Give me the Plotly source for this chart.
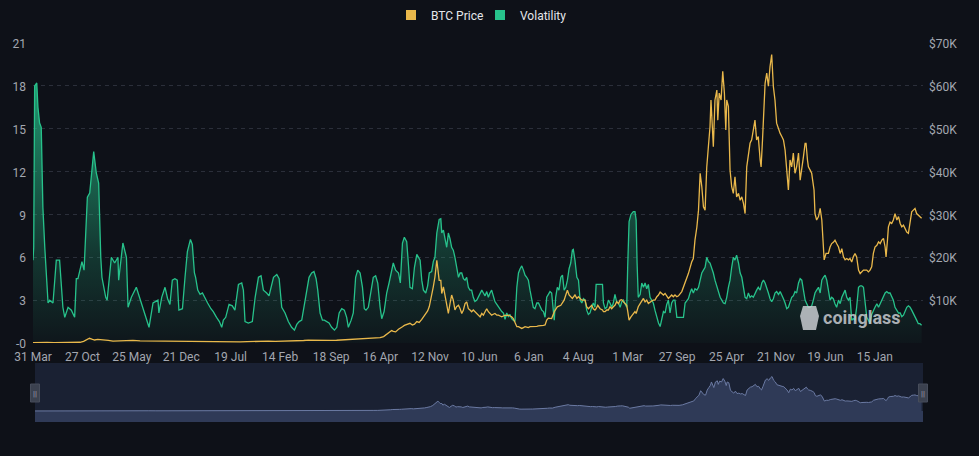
import pandas as pd
import plotly.graph_objects as go

START_DATE = "2013-03-31"

# Volatility: (days since start, value)
vol_days = [0, 3, 7, 16, 21, 28, 35, 42, 50, 57, 64, 71, 85, 99, 113, 127, 135, 149, 163, 177, 184, 191, 208, 217,
            231, 241, 258, 269, 279, 288, 293, 309, 315, 333, 347, 361, 364, 382, 397, 404, 418, 439, 461, 482, 493,
            510, 531, 535, 547, 561, 572, 582, 592, 603, 613, 620, 635, 646, 656, 669, 677, 686, 691, 700, 710, 720,
            731, 742, 756, 766, 780, 792, 802, 809, 819, 833, 847, 858, 873, 887, 894, 901, 915, 932, 944, 958, 969,
            979, 993, 1003, 1022, 1036, 1046, 1057, 1071, 1085, 1099, 1111, 1121, 1131, 1142, 1152, 1163, 1173, 1184,
            1194, 1203, 1210, 1220, 1230, 1238, 1248, 1258, 1269, 1281, 1291, 1301, 1312, 1323, 1333, 1340, 1352,
            1361, 1371, 1380, 1390, 1400, 1408, 1415, 1425, 1437, 1446, 1456, 1465, 1475, 1482, 1492, 1503, 1513,
            1524, 1531, 1541, 1553, 1561, 1570, 1578, 1588, 1595, 1602, 1612, 1621, 1631, 1645, 1652, 1659, 1669,
            1677, 1684, 1694, 1701, 1708, 1716, 1726, 1733, 1737, 1744, 1751, 1758, 1765, 1772, 1779, 1786, 1793,
            1800, 1808, 1815, 1822, 1829, 1836, 1843, 1850, 1857, 1864, 1871, 1878, 1886, 1893, 1900, 1907, 1914,
            1921, 1928, 1935, 1942, 1949, 1956, 1963, 1971, 1978, 1985, 1992, 1999, 2006, 2013, 2020, 2027, 2034,
            2041, 2048, 2056, 2063, 2070, 2077, 2084, 2091, 2098, 2105, 2112, 2119, 2126, 2133, 2141, 2148, 2155,
            2162, 2169, 2176, 2183, 2190, 2197, 2204, 2211, 2215, 2221, 2228, 2235, 2243, 2250, 2257, 2264, 2271,
            2278, 2285, 2292, 2296, 2303, 2311, 2318, 2325, 2332, 2339, 2346, 2353, 2360, 2367, 2374, 2381, 2388,
            2393, 2400, 2410, 2420, 2424, 2431, 2438, 2445, 2452, 2459, 2466, 2473, 2480, 2488, 2495, 2502, 2509,
            2516, 2523, 2527, 2533, 2541, 2551, 2558, 2563, 2567, 2572, 2580, 2587, 2594, 2601, 2608, 2615, 2622,
            2629, 2636, 2643, 2651, 2658, 2665, 2672, 2679, 2686, 2693, 2700, 2707, 2714, 2721, 2728, 2736, 2743,
            2757, 2764, 2771, 2778, 2785, 2792, 2799, 2806, 2813, 2821, 2828, 2835, 2842, 2849, 2856, 2863, 2870,
            2877, 2884, 2891, 2898, 2906, 2913, 2920, 2927, 2934, 2941, 2948, 2955, 2962, 2969, 2976, 2983, 2990,
            2998, 3005, 3012, 3019, 3026, 3033, 3040, 3047, 3054, 3061, 3068, 3075, 3082, 3090, 3097, 3104, 3111,
            3118, 3125, 3132, 3139, 3146, 3153, 3160, 3168, 3175, 3182, 3189, 3196, 3203, 3210, 3217, 3224, 3231,
            3238, 3245, 3253, 3260, 3267, 3274, 3281, 3288, 3295, 3302, 3309, 3316, 3323, 3330, 3338, 3345, 3352,
            3359, 3366, 3373, 3380, 3387, 3394, 3401, 3408, 3415, 3423, 3430, 3437, 3444, 3451, 3458, 3465, 3472,
            3479, 3486, 3493, 3500, 3508, 3515, 3522, 3529, 3536, 3543, 3550, 3557, 3564, 3571, 3578, 3586, 3593,
            3600, 3607, 3614, 3621, 3628, 3635, 3642, 3649, 3656, 3663, 3671, 3678, 3685, 3692, 3699, 3706, 3713,
            3720, 3727, 3734, 3741, 3748, 3755, 3762, 3769, 3776]
vol_values = [5.8, 6.7, 18.0, 18.2, 16.5, 15.4, 15.1, 9.5, 6.7, 4.9, 2.8, 3.0, 2.8, 5.8, 5.8, 2.5, 1.8, 2.5, 2.3, 1.8,
              4.5, 4.5, 5.7, 5.1, 10.2, 10.5, 13.4, 11.9, 11.2, 6.0, 4.6, 3.2, 3.0, 6.0, 5.6, 6.0, 4.4, 7.0, 6.0,
              2.5, 3.2, 3.9, 2.8, 1.6, 1.1, 2.8, 3.0, 2.1, 3.2, 3.9, 3.1, 2.7, 4.4, 4.5, 4.4, 2.3, 2.4, 4.6, 6.4,
              7.25, 6.9, 4.9, 4.6, 3.7, 3.4, 3.5, 3.1, 2.8, 2.4, 2.2, 1.8, 1.5, 1.1, 1.6, 1.8, 2.7, 2.6, 2.3, 4.1,
              4.2, 3.7, 1.5, 1.4, 1.5, 3.2, 4.6, 4.7, 3.7, 3.5, 3.3, 4.6, 4.8, 4.5, 2.5, 2.1, 1.5, 1.1, 0.9, 1.3,
              1.5, 1.6, 2.5, 3.7, 4.6, 4.9, 5.0, 4.5, 3.7, 2.1, 1.6, 1.6, 1.5, 1.4, 1.1, 0.9, 1.1, 2.1, 2.4, 2.3,
              1.8, 1.1, 1.6, 2.1, 4.6, 5.1, 4.9, 3.9, 2.4, 2.3, 2.5, 3.7, 4.6, 4.7, 4.2, 2.5, 1.7, 2.2, 3.5, 4.2,
              5.2, 5.6, 5.1, 4.9, 4.2, 7.0, 7.4, 7.1, 5.6, 3.9, 3.8, 5.3, 6.2, 5.8, 4.4, 3.7, 3.5, 4.0, 4.9, 5.0,
              5.7, 6.0, 7.7, 8.65, 8.7, 7.7, 7.9, 7.3, 6.7, 7.7, 7.3, 6.7, 6.5, 6.0, 5.3, 4.6, 4.9, 4.9, 4.5, 4.4,
              4.6, 3.9, 3.7, 3.7, 3.2, 2.9, 3.0, 3.2, 3.5, 3.7, 3.5, 3.3, 3.6, 3.2, 3.5, 3.7, 3.3, 2.9, 2.7, 2.5,
              2.3, 2.2, 2.1, 1.65, 2.1, 1.85, 2.0, 1.7, 1.6, 1.5, 3.9, 4.9, 5.2, 5.4, 5.1, 4.75, 4.6, 4.4, 3.7, 3.0,
              2.5, 2.4, 2.8, 2.8, 2.5, 2.3, 2.2, 1.8, 3.2, 3.4, 3.6, 3.5, 2.1, 1.6, 3.2, 3.9, 3.7, 4.6, 4.75, 3.7,
              3.9, 4.4, 5.2, 5.6, 6.5, 6.55, 5.8, 4.6, 4.4, 3.0, 2.8, 3.1, 3.0, 2.3, 2.0, 2.1, 2.5, 2.8, 2.5, 4.1,
              4.1, 4.1, 4.1, 2.8, 2.4, 2.5, 3.0, 2.8, 2.5, 2.8, 3.4, 2.9, 2.8, 2.5, 2.9, 3.0, 2.7, 2.5, 5.3, 8.5,
              9.0, 9.2, 9.2, 8.6, 5.6, 3.2, 3.4, 4.2, 3.9, 4.2, 3.8, 4.1, 3.2, 3.0, 2.8, 2.3, 1.8, 1.4, 1.15, 1.6,
              2.2, 2.1, 2.7, 3.0, 2.1, 2.8, 3.0, 3.0, 1.8, 1.8, 1.8, 1.8, 2.8, 3.0, 3.1, 3.5, 3.8, 3.5, 3.8, 3.7,
              3.9, 4.4, 4.9, 5.1, 5.3, 6.0, 5.7, 5.6, 5.3, 4.9, 4.4, 3.9, 3.5, 3.2, 3.0, 2.8, 2.75, 3.2, 3.9, 4.4,
              5.3, 6.0, 5.8, 6.15, 5.6, 4.9, 4.6, 3.9, 3.2, 3.1, 3.5, 3.2, 3.3, 3.2, 3.5, 3.7, 3.9, 3.7, 4.2, 4.4,
              4.2, 3.9, 3.5, 3.1, 2.9, 3.1, 3.5, 3.6, 3.4, 3.6, 3.4, 3.1, 2.8, 2.4, 2.5, 2.8, 3.2, 3.3, 3.6, 3.5,
              4.2, 4.5, 4.4, 3.7, 3.0, 2.75, 2.5, 2.5, 2.6, 3.0, 3.5, 3.7, 3.9, 3.5, 4.4, 4.6, 4.75, 4.4, 3.5, 3.0,
              3.2, 3.1, 2.75, 2.5, 3.0, 2.75, 3.2, 3.5, 3.7, 3.2, 3.0, 3.2, 1.6, 1.7, 1.6, 2.5, 3.9, 4.0, 4.0, 3.9,
              2.75, 1.8, 1.6, 1.35, 2.0, 2.3, 2.5, 2.75, 2.5, 2.75, 3.0, 3.2, 3.5, 3.6, 3.5, 3.5, 3.3, 3.0, 2.5,
              2.3, 2.1, 2.1, 1.85, 1.95, 2.2, 2.5, 2.6, 2.5, 2.3, 2.1, 1.85, 1.6, 1.35, 1.35, 1.25]

# BTC price: (days since start, USD)
price_days = [0, 14, 30, 60, 90, 120, 150, 180, 200, 215, 230, 240, 250, 262, 275, 290, 305, 320, 340, 365, 395,
              425, 455, 485, 515, 545, 575, 605, 635, 665, 700, 730, 760, 790, 820, 850, 880, 910, 940, 970, 1000,
              1030, 1060, 1085, 1120, 1150, 1170, 1200, 1230, 1260, 1290, 1320, 1340, 1360, 1380, 1400, 1420, 1440,
              1460, 1475, 1490, 1503, 1513, 1524, 1531, 1541, 1553, 1561, 1570, 1578, 1588, 1595, 1602, 1612, 1621,
              1631, 1641, 1652, 1659, 1669, 1677, 1684, 1694, 1701, 1708, 1716, 1721, 1726, 1733, 1737, 1744, 1751,
              1758, 1765, 1772, 1779, 1786, 1793, 1800, 1808, 1815, 1822, 1829, 1836, 1843, 1850, 1857, 1864, 1871,
              1878, 1886, 1893, 1900, 1907, 1914, 1921, 1928, 1935, 1942, 1949, 1956, 1963, 1971, 1978, 1985, 1992,
              1999, 2006, 2013, 2020, 2027, 2034, 2041, 2048, 2056, 2063, 2070, 2077, 2084, 2091, 2098, 2105, 2112,
              2119, 2126, 2133, 2141, 2148, 2155, 2162, 2169, 2176, 2183, 2190, 2197, 2204, 2215, 2228, 2243, 2257,
              2264, 2271, 2278, 2285, 2292, 2303, 2311, 2318, 2325, 2332, 2346, 2353, 2360, 2367, 2374, 2381, 2388,
              2393, 2400, 2410, 2420, 2424, 2431, 2438, 2445, 2452, 2459, 2466, 2473, 2480, 2488, 2495, 2502, 2509,
              2516, 2523, 2527, 2533, 2541, 2551, 2558, 2563, 2567, 2572, 2580, 2587, 2594, 2601, 2608, 2615, 2622,
              2629, 2636, 2643, 2651, 2658, 2665, 2672, 2679, 2686, 2693, 2700, 2707, 2714, 2721, 2728, 2736, 2743,
              2757, 2771, 2785, 2799, 2806, 2813, 2821, 2828, 2835, 2842, 2849, 2856, 2863, 2870, 2877, 2881, 2887,
              2891, 2898, 2906, 2910, 2916, 2924, 2931, 2938, 2944, 2948, 2955, 2962, 2969, 2976, 2983, 2990, 2998,
              3005, 3012, 3019, 3026, 3033, 3040, 3047, 3054, 3061, 3068, 3075, 3082, 3090, 3094, 3100, 3104, 3111,
              3118, 3125, 3132, 3139, 3146, 3153, 3160, 3168, 3175, 3182, 3189, 3196, 3203, 3210, 3217, 3224, 3231,
              3238, 3245, 3253, 3260, 3267, 3274, 3281, 3285, 3291, 3295, 3302, 3309, 3313, 3319, 3323, 3330, 3338,
              3345, 3352, 3356, 3359, 3362, 3370, 3380, 3387, 3394, 3401, 3408, 3415, 3423, 3430, 3437, 3444, 3451,
              3458, 3465, 3472, 3479, 3486, 3493, 3500, 3508, 3515, 3522, 3529, 3536, 3543, 3550, 3557, 3564, 3571,
              3578, 3586, 3593, 3600, 3607, 3614, 3621, 3625, 3631, 3635, 3642, 3649, 3656, 3663, 3671, 3678, 3685,
              3692, 3699, 3706, 3713, 3720, 3727, 3734, 3741, 3748, 3755, 3762, 3769, 3776]
price_values = [93, 140, 110, 120, 100, 95, 110, 125, 170, 400, 800, 1100, 900, 700, 850, 800, 650, 600, 450, 480,
                620, 600, 500, 480, 390, 370, 340, 320, 220, 230, 250, 240, 230, 250, 270, 240, 240, 320, 400, 440,
                420, 400, 420, 430, 440, 580, 680, 620, 600, 610, 640, 730, 780, 930, 980, 900, 1050, 1150, 1200,
                1250, 1500, 2100, 2400, 2900, 2700, 2600, 3200, 3400, 3800, 4100, 4300, 4600, 4600, 4200, 4400,
                5000, 4800, 5500, 6000, 6900, 7500, 8500, 10800, 13100, 15400, 19300, 17000, 14600, 14600, 11550,
                13100, 10800, 8800, 6900, 9200, 11200, 10000, 7700, 8450, 8800, 8000, 6900, 7700, 9200, 9600, 8000,
                7700, 7300, 7700, 7300, 6900, 6500, 6100, 6900, 6500, 7300, 8000, 7300, 6900, 6500, 6700, 6900,
                6500, 6500, 6300, 6100, 6300, 6500, 6400, 6500, 6300, 6100, 5700, 4600, 3800, 3800, 3600, 3400,
                3600, 3800, 3700, 3600, 3800, 3800, 3900, 3800, 3900, 4000, 4000, 3950, 4100, 4200, 5350, 5800,
                5700, 5700, 7300, 8450, 8800, 10000, 11200, 12300, 11200, 10800, 10400, 11200, 10400, 10800, 10400,
                10000, 10000, 8450, 8000, 8450, 8800, 8000, 7700, 8000, 8800, 8000, 7700, 7300, 7300, 7700, 7700,
                8450, 8000, 8450, 8800, 9600, 9200, 10000, 10100, 9600, 9200, 8800, 7500, 5350, 6100, 6900, 7300,
                6900, 7700, 8450, 9200, 10000, 10400, 9600, 10000, 9200, 9600, 9800, 10000, 10000, 10800, 11200,
                11900, 11550, 11200, 11550, 10800, 10400, 10800, 11200, 10800, 11200, 10800, 11000, 12000, 13900,
                16200, 18900, 19700, 24000, 27000, 31000, 39600, 36500, 31800, 31000, 41000, 45800, 50500, 56700,
                49000, 45800, 56700, 59000, 52000, 58300, 56700, 63400, 58300, 49700, 56700, 55200, 40400, 36500,
                34900, 38800, 34100, 34900, 33300, 34100, 32600, 30200, 41100, 44300, 46600, 47400, 49700, 52000,
                47400, 48200, 42700, 41100, 47400, 53600, 60600, 63000, 59900, 64500, 67300, 59900, 56700, 51300,
                49700, 48900, 48200, 47400, 45000, 41100, 35700, 42700, 41100, 44300, 39600, 41100, 44300, 38000,
                40400, 43500, 46600, 46600, 42700, 41100, 40400, 39600, 38000, 35700, 30200, 28700, 29500, 31400,
                28700, 24000, 20100, 19400, 20900, 20900, 22400, 23200, 23500, 24000, 23200, 22400, 20900, 22000,
                20100, 19400, 19700, 19400, 19700, 18900, 20100, 20900, 20100, 17000, 16200, 16600, 17000, 17000,
                17000, 16600, 17000, 17800, 20900, 22400, 22800, 23600, 23200, 24000, 24400, 22400, 20100, 24000,
                27100, 28200, 27900, 28700, 30200, 28700, 29500, 27900, 27100, 27500, 26700, 25900, 25600, 27900,
                30600, 31000, 31400, 30200, 29900, 29500, 29100]

tick_dates = ["2013-03-31", "2013-10-27", "2014-05-25", "2014-12-21", "2015-07-19", "2016-02-14", "2016-09-18",
              "2017-04-16", "2017-11-12", "2018-06-10", "2019-01-06", "2019-08-04", "2020-03-01", "2020-09-27",
              "2021-04-25", "2021-11-21", "2022-06-19", "2023-01-15"]
tick_labels = ["31 Mar", "27 Oct", "25 May", "21 Dec", "19 Jul", "14 Feb", "18 Sep", "16 Apr", "12 Nov", "10 Jun",
               "6 Jan", "4 Aug", "1 Mar", "27 Sep", "25 Apr", "21 Nov", "19 Jun", "15 Jan"]
vol_ticks = [0, 3, 6, 9, 12, 15, 18, 21]
vol_tick_labels = ["-0", "3", "6", "9", "12", "15", "18", "21"]
price_ticks = [10000, 20000, 30000, 40000, 50000, 60000, 70000]
price_tick_labels = ["$10K", "$20K", "$30K", "$40K", "$50K", "$60K", "$70K"]

# ---------------------------------------------------------------
start = pd.Timestamp(START_DATE)
vol_x = start + pd.to_timedelta(vol_days, unit="D")
price_x = start + pd.to_timedelta(price_days, unit="D")
x_end = start + pd.Timedelta(days=3782)

BG = "#0e1118"
GRID = "#2b2f3a"
TICK = "#a3a7b0"
GREEN = "#27c28b"
GOLD = "#e9b84b"

W, H = 979, 456
ML, MR, MT, MB = 33, 56, 43, 34
plot_h = H - MT - MB
plot_w = W - ML - MR
main_bottom = (422 - 343) / plot_h
slider_top = (422 - 363) / plot_h


def px_x(px):
    return (px - ML) / plot_w


def px_y(py):
    return 1 - (py - MT) / plot_h


fig = go.Figure()

fig.add_trace(go.Scatter(
    x=vol_x, y=vol_values, mode="lines", name="Volatility", showlegend=False,
    line=dict(color=GREEN, width=1.3),
    fill="tozeroy",
    fillgradient=dict(type="vertical", start=0, stop=18,
                      colorscale=[[0, "rgba(39,194,139,0.03)"], [0.35, "rgba(39,194,139,0.22)"],
                                  [1, "rgba(39,194,139,0.75)"]]),
    xaxis="x", yaxis="y", hoverinfo="skip"))

fig.add_trace(go.Scatter(
    x=price_x, y=price_values, mode="lines", name="BTC Price", showlegend=False,
    line=dict(color=GOLD, width=1.3), xaxis="x", yaxis="y3", hoverinfo="skip"))

# slider (data zoom) preview
fig.add_trace(go.Scatter(
    x=price_x, y=price_values, mode="lines", showlegend=False,
    line=dict(color="#6b7aa3", width=1), fill="tozeroy", fillcolor="#2f3a57",
    xaxis="x2", yaxis="y2", hoverinfo="skip"))

# legend entries
fig.add_trace(go.Scatter(x=[None], y=[None], mode="markers", name="BTC Price",
                         marker=dict(symbol="square", size=10, color=GOLD)))
fig.add_trace(go.Scatter(x=[None], y=[None], mode="markers", name="Volatility",
                         marker=dict(symbol="square", size=10, color=GREEN)))

shapes = [
    dict(type="rect", xref="paper", yref="paper", x0=px_x(35), x1=px_x(923), y0=0, y1=slider_top,
         fillcolor="#1a2133", line=dict(width=0), layer="below"),
    dict(type="rect", xref="x2 domain", yref="y2", x0=0, x1=1, y0=-21500, y1=0,
         fillcolor="#2f3a57", line=dict(width=0), layer="below"),
]
annotations = []
for hxp in (35, 923):
    shapes.append(dict(type="rect", xref="paper", yref="paper",
                       x0=px_x(hxp - 4.5), x1=px_x(hxp + 4.5),
                       y0=px_y(402), y1=px_y(384),
                       fillcolor="#3b414f", line=dict(color="#474d5b", width=1)))
    annotations.append(dict(x=px_x(hxp), y=px_y(393), xref="paper", yref="paper", text="||", showarrow=False,
                            xanchor="center", yanchor="middle",
                            font=dict(size=8, color="#9aa0ab", family="Roboto")))

# watermark
annotations.append(dict(x=px_x(862), y=px_y(317), xref="paper", yref="paper",
                        text="<b>coinglass</b>", showarrow=False, xanchor="center", yanchor="middle",
                        font=dict(size=18, color="rgba(200,203,208,0.85)", family="Roboto")))
shapes.append(dict(type="path", xref="paper", yref="paper",
                   path=("M {a},{t} L {b},{t} L {c},{m} L {b},{bt} L {a},{bt} L {d},{m} Z").format(
                       a=px_x(803), b=px_x(816), c=px_x(819), d=px_x(800),
                       t=px_y(306), m=px_y(316), bt=px_y(330)),
                   fillcolor="rgba(200,203,208,0.85)", line=dict(width=0)))

fig.update_layout(
    width=W, height=H,
    margin=dict(l=ML, r=MR, t=MT, b=MB, autoexpand=False),
    paper_bgcolor=BG, plot_bgcolor=BG,
    font=dict(family="Roboto", size=12, color=TICK),
    showlegend=True,
    legend=dict(orientation="h", x=(484 - 4) / W, xanchor="center", xref="container",
                y=1 - 15 / H, yanchor="middle", yref="container",
                font=dict(size=12, color="#e4e6ea"), bgcolor="rgba(0,0,0,0)", itemwidth=30,
                entrywidth=44, entrywidthmode="pixels", tracegroupgap=0),
    xaxis=dict(type="date", domain=[0, 1], anchor="y", range=[start, x_end],
               tickmode="array", tickvals=tick_dates, ticktext=tick_labels,
               showgrid=False, zeroline=False, showline=False, ticks="", ticklabelstandoff=5,
               tickfont=dict(size=12, color=TICK), fixedrange=True),
    yaxis=dict(domain=[main_bottom, 1], range=[0, 21], tickmode="array", tickvals=vol_ticks,
               ticktext=vol_tick_labels, showgrid=True, gridcolor=GRID, griddash="4px,4px",
               zeroline=False, showline=False, ticks="", ticklabelstandoff=6, ticklabelshift=1,
               tickfont=dict(size=12, color=TICK)),
    yaxis3=dict(overlaying="y", side="right", anchor="x", range=[0, 70000], tickmode="array",
                tickvals=price_ticks, ticktext=price_tick_labels, showgrid=False, zeroline=False,
                showline=False, ticks="", ticklabelstandoff=5, ticklabelshift=1,
                tickfont=dict(size=12, color=TICK)),
    xaxis2=dict(type="date", domain=[px_x(35), px_x(923)], anchor="y2", range=[start, x_end], visible=False),
    yaxis2=dict(domain=[0, slider_top], range=[-21500, 93800], visible=False),
    shapes=shapes,
    annotations=annotations,
)

fig.write_html(
    "out.html",
    config={"displayModeBar": False},
    post_script=("document.body.style.margin='0';document.body.style.background='" + BG + "';"
                 "document.documentElement.style.overflow='hidden';"),
)
